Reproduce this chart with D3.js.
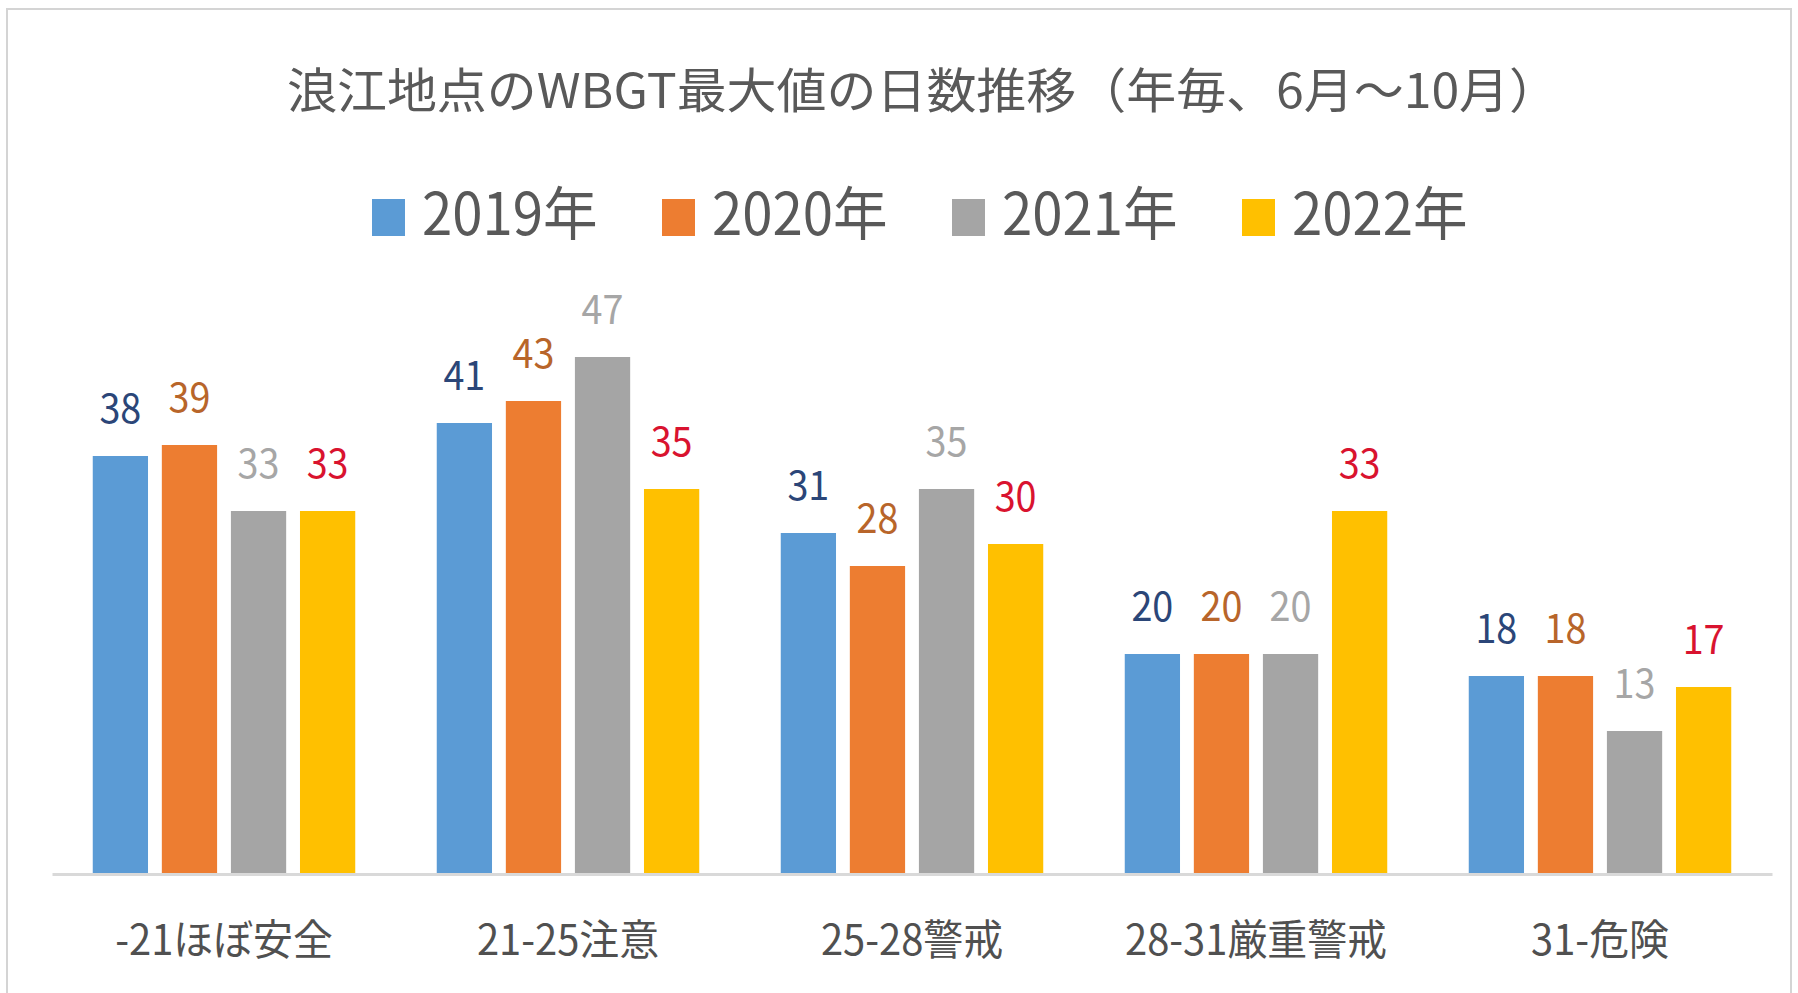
<!DOCTYPE html>
<html>
<head>
<meta charset="utf-8">
<script src="https://cdn.jsdelivr.net/npm/d3@7"></script>
<style>
  html, body { margin: 0; padding: 0; background: #fff; }
</style>
</head>
<body>
<div id="chart"></div>
<script>
const categories = ["-21ほぼ安全", "21-25注意", "25-28警戒", "28-31厳重警戒", "31-危険"];
const years = ["2019年", "2020年", "2021年", "2022年"];
const v2019 = [38, 41, 31, 20, 18];
const v2020 = [39, 43, 28, 20, 18];
const v2021 = [33, 47, 35, 20, 13];
const v2022 = [33, 35, 30, 33, 17];
const yMax = 50;

const title = "浪江地点のWBGT最大値の日数推移（年毎、6月～10月）";

const svgWidth = 1798;
const svgHeight = 993;
const font = "'Noto Sans CJK JP', 'Noto Sans', sans-serif";

const seriesValues = [v2019, v2020, v2021, v2022];
const table = categories.map((c, i) => ({
  category: c,
  values: years.map((y, j) => ({ year: y, value: seriesValues[j][i] }))
}));

const barColor = d3.scaleOrdinal()
  .domain(years)
  .range(["#5b9bd5", "#ed7d31", "#a5a5a5", "#ffc000"]);

const labelColor = d3.scaleOrdinal()
  .domain(years)
  .range(["#2b4678", "#b8652a", "#a6a6a6", "#d9132f"]);

const svg = d3.select("#chart")
  .append("svg")
  .attr("width", svgWidth)
  .attr("height", svgHeight)
  .style("font-family", font);

svg.append("rect")
  .attr("width", svgWidth)
  .attr("height", svgHeight)
  .attr("fill", "#fff");

// frame
svg.append("rect")
  .attr("x", 7)
  .attr("y", 9)
  .attr("width", 1784)
  .attr("height", 1000)
  .attr("fill", "none")
  .attr("stroke", "#d4d4d4")
  .attr("stroke-width", 2);

// squeeze text horizontally a bit, the original font is narrow
function squeeze(sel, k) {
  sel.each(function () {
    const w = this.getComputedTextLength();
    d3.select(this)
      .attr("textLength", w * k)
      .attr("lengthAdjust", "spacingAndGlyphs");
  });
}

// title
svg.append("text")
  .attr("x", 287)
  .attr("y", 108)
  .attr("font-size", "48px")
  .attr("fill", "#595959")
  .attr("textLength", 1272)
  .attr("lengthAdjust", "spacingAndGlyphs")
  .text(title);

// legend
const legend = svg.append("g")
  .selectAll("g")
  .data(years)
  .join("g")
  .attr("transform", (d, i) => `translate(${372 + i * 290},0)`);

legend.append("rect")
  .attr("x", 0)
  .attr("y", 199)
  .attr("width", 33)
  .attr("height", 37)
  .attr("fill", d => barColor(d));

legend.append("text")
  .attr("x", 50)
  .attr("y", 235)
  .attr("font-size", "58px")
  .attr("fill", "#595959")
  .text(d => d)
  .call(squeeze, 0.94);

// scales
const x0 = d3.scaleBand()
  .domain(categories)
  .range([52, 1772])
  .padding(0);

const x1 = d3.scaleBand()
  .domain(years)
  .range([0, x0.bandwidth()])
  .paddingInner(0.2)
  .paddingOuter(0.59);

const y = d3.scaleLinear()
  .domain([0, yMax])
  .range([874, 324]);

// bars
const groups = svg.append("g")
  .selectAll("g")
  .data(table)
  .join("g")
  .attr("transform", d => `translate(${x0(d.category)},0)`);

groups.selectAll("rect")
  .data(d => d.values)
  .join("rect")
  .attr("x", d => x1(d.year))
  .attr("y", d => y(d.value))
  .attr("width", x1.bandwidth())
  .attr("height", d => y(0) - y(d.value))
  .attr("fill", d => barColor(d.year));

groups.selectAll("text.val")
  .data(d => d.values)
  .join("text")
  .attr("class", "val")
  .attr("x", d => x1(d.year) + x1.bandwidth() / 2)
  .attr("y", d => y(d.value) - 33)
  .attr("text-anchor", "middle")
  .attr("font-size", "41px")
  .attr("fill", d => labelColor(d.year))
  .text(d => d.value)
  .call(squeeze, 0.92);

// x axis
const xAxis = svg.append("g")
  .attr("transform", `translate(0,${y(0)})`)
  .call(d3.axisBottom(x0).tickSize(0).tickPadding(81));

xAxis.select(".domain")
  .attr("stroke", "#d9d9d9")
  .attr("stroke-width", 3);

xAxis.selectAll("text")
  .attr("font-size", "42px")
  .attr("font-family", font)
  .attr("fill", "#505050")
  .attr("dy", 0)
  .call(squeeze, 0.95);
</script>
</body>
</html>
